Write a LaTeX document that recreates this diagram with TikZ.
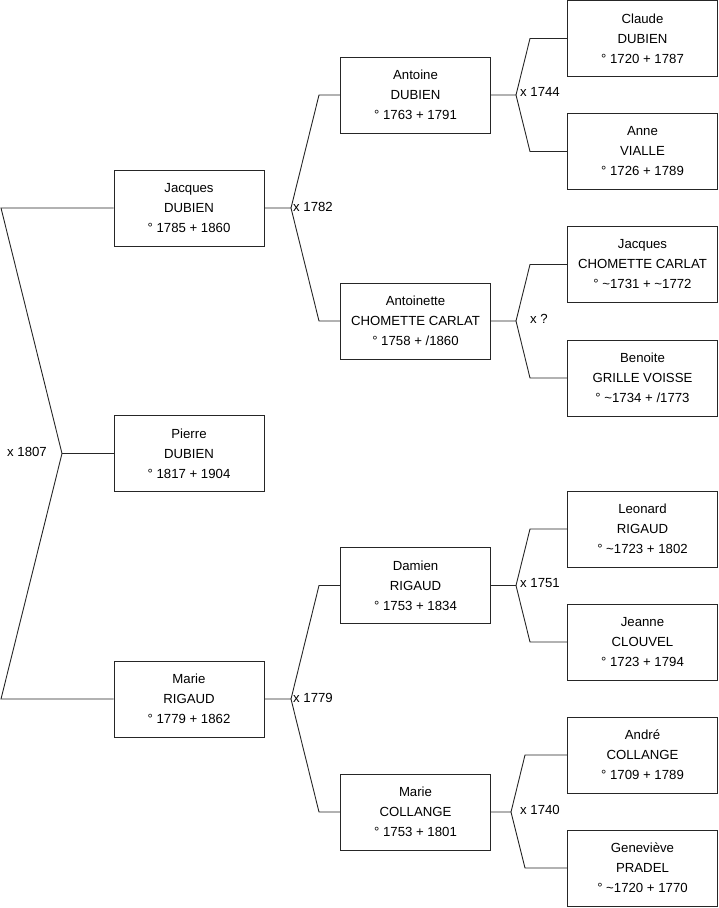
\documentclass[tikz,border=0pt]{standalone}
\usepackage{fontspec}
\setmainfont{Liberation Sans}
\begin{document}
\begin{tikzpicture}[x=1pt,y=-1pt,
  person/.style={draw=black!85, line width=0.9pt, fill=white, minimum width=150pt, minimum height=76pt,
    inner sep=0pt, align=center, font=\fontsize{13.2}{20}\selectfont},
  link/.style={draw=black!85, line width=0.9pt, line join=miter},
  wed/.style={font=\fontsize{13.2}{14}\selectfont, inner sep=0pt}]
\useasboundingbox (0,0) rectangle (719,908);
% generation 1-2
\node[person] (jacques) at (189,208) {Jacques\\DUBIEN\\° 1785 + 1860};
\node[person] (pierre) at (189,453.5) {Pierre\\DUBIEN\\° 1817 + 1904};
\node[person] (marier) at (189,699) {Marie\\RIGAUD\\° 1779 + 1862};
% generation 3
\node[person] (antoine) at (415.5,95) {Antoine\\DUBIEN\\° 1763 + 1791};
\node[person] (antoinette) at (415.5,321) {Antoinette\\CHOMETTE CARLAT\\° 1758 + /1860};
\node[person] (damien) at (415.5,585.5) {Damien\\RIGAUD\\° 1753 + 1834};
\node[person] (mariec) at (415.5,812) {Marie\\COLLANGE\\° 1753 + 1801};
% generation 4
\node[person] (claude) at (642.5,38.5) {Claude\\DUBIEN\\° 1720 + 1787};
\node[person] (anne) at (642.5,151.5) {Anne\\VIALLE\\° 1726 + 1789};
\node[person] (jacquescc) at (642.5,264.5) {Jacques\\CHOMETTE CARLAT\\° \textasciitilde1731 + \textasciitilde1772};
\node[person] (benoite) at (642.5,378) {Benoite\\GRILLE VOISSE\\° \textasciitilde1734 + /1773};
\node[person] (leonard) at (642.5,529) {Leonard\\RIGAUD\\° \textasciitilde1723 + 1802};
\node[person] (jeanne) at (642.5,642) {Jeanne\\CLOUVEL\\° 1723 + 1794};
\node[person] (andre) at (642.5,755) {André\\COLLANGE\\° 1709 + 1789};
\node[person] (genevieve) at (642.5,868) {Geneviève\\PRADEL\\° \textasciitilde1720 + 1770};

% fork coordinates
\coordinate (v0) at (62,453.5);
\coordinate (t0) at (1,208);
\coordinate (b0) at (1,699);
\coordinate (v1) at (291,208);
\coordinate (t1) at (319,95);
\coordinate (b1) at (319,321);
\coordinate (v2) at (291,699);
\coordinate (t2) at (319,585.5);
\coordinate (b2) at (319,812);
\coordinate (v3) at (516,95);
\coordinate (t3) at (530,38.5);
\coordinate (b3) at (530,151.5);
\coordinate (v4) at (516,321);
\coordinate (t4) at (530,264.5);
\coordinate (b4) at (530,378);
\coordinate (v5) at (516,585.5);
\coordinate (t5) at (530,529);
\coordinate (b5) at (530,642);
\coordinate (v6) at (511,812);
\coordinate (t6) at (525,755);
\coordinate (b6) at (525,868);

% connectors
\draw[link] (jacques.west) -- (t0) -- (v0) -- (b0) -- (marier.west);
\draw[link] (v0) -- (pierre.west);
\draw[link] (jacques.east) -- (v1) -- (t1) -- (antoine.west);
\draw[link] (v1) -- (b1) -- (antoinette.west);
\draw[link] (marier.east) -- (v2) -- (t2) -- (damien.west);
\draw[link] (v2) -- (b2) -- (mariec.west);
\draw[link] (antoine.east) -- (v3) -- (t3) -- (claude.west);
\draw[link] (v3) -- (b3) -- (anne.west);
\draw[link] (antoinette.east) -- (v4) -- (t4) -- (jacquescc.west);
\draw[link] (v4) -- (b4) -- (benoite.west);
\draw[link] (damien.east) -- (v5) -- (t5) -- (leonard.west);
\draw[link] (v5) -- (b5) -- (jeanne.west);
\draw[link] (mariec.east) -- (v6) -- (t6) -- (andre.west);
\draw[link] (v6) -- (b6) -- (genevieve.west);

% marriage labels
\node[wed, anchor=east] (m0) at (47,452) {x 1807};
\node[wed, anchor=west] (m1) at (293,207) {x 1782};
\node[wed, anchor=west] (m2) at (293,698) {x 1779};
\node[wed, anchor=west] (m3) at (520,92) {x 1744};
\node[wed, anchor=west] (m4) at (530,319) {x ?};
\node[wed, anchor=west] (m5) at (520,583) {x 1751};
\node[wed, anchor=west] (m6) at (520,810) {x 1740};
\end{tikzpicture}
\end{document}
